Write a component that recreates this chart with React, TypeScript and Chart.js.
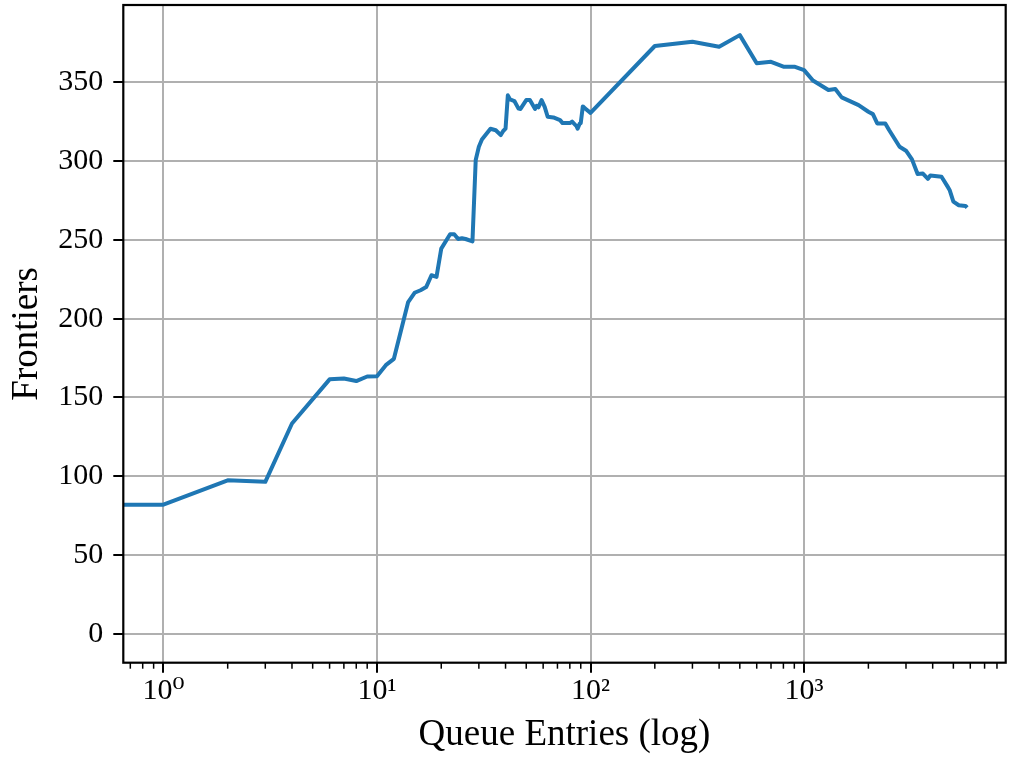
import React, { useEffect, useRef } from "react";
import { Chart, registerables } from "chart.js";

Chart.register(...registerables);

// Queue entries (x, log scale) and frontiers (y)
const QUEUE_ENTRIES = [
  0.5, 1, 2, 3, 4, 6, 7, 8, 9, 10, 11, 12, 14, 15, 16, 17, 18, 19, 20, 22, 23,
  24, 25, 26, 28, 29, 30, 31, 34, 36, 38, 39, 40, 41, 42, 44, 46, 47, 50, 52,
  55, 56, 57, 59, 61, 63, 67, 72, 74, 80, 82, 86, 87, 89, 90, 92, 95, 100, 200,
  300, 400, 500, 600, 700, 800, 900, 1000, 1100, 1300, 1400, 1500, 1800, 2000,
  2100, 2200, 2400, 2500, 2800, 3000, 3200, 3400, 3600, 3800, 3900, 4400, 4700,
  4800, 5000, 5300, 5700, 5800,
];
const FRONTIERS = [
  82, 82, 97.5, 96.5, 133.5, 161.5, 162, 160.4, 163.3, 163.5, 170.5, 174.5,
  210.5, 216.4, 218, 220, 227.5, 226.5, 244.4, 253.5, 253.5, 250.5, 251, 250.5,
  249, 300.6, 309, 313.6, 320.4, 319.5, 316.4, 319, 320.5, 341.6, 339, 338,
  333.2, 333, 338.6, 338.6, 333, 335, 334, 338.6, 334.3, 328, 327.6, 325.9, 324,
  324, 325, 322, 320.5, 323.7, 324, 334.6, 333, 330.5, 372.9, 375.6, 372.4,
  379.8, 361.9, 362.9, 359.8, 359.8, 357.6, 351, 345, 345.6, 340.3, 335.4, 331.2,
  329.7, 323.8, 323.8, 319.6, 309, 306.5, 301, 291.7, 292, 288.7, 290.8, 290,
  283.7, 281.6, 274.2, 271.9, 271.5, 270.4,
];

const X_MAJOR_TICKS = [1, 10, 100, 1000];
const X_MAJOR_LABELS = ["10⁰", "10¹", "10²", "10³"];
const X_MINOR_TICKS = [
  0.7, 0.8, 0.9, 2, 3, 4, 5, 6, 7, 8, 9, 20, 30, 40, 50, 60, 70, 80, 90, 200,
  300, 400, 500, 600, 700, 800, 900, 2000, 3000, 4000, 5000, 6000, 7000, 8000,
];
const Y_TICKS = [0, 50, 100, 150, 200, 250, 300, 350];

const X_MIN = 0.649;
const X_MAX = 8790;
const Y_MIN = -18.2;
const Y_MAX = 398.9;

const FONT = "'Liberation Serif', 'Times New Roman', 'DejaVu Serif', serif";

const framePlugin = {
  id: "frameAndMinor",
  afterDraw(chart: any) {
    const { ctx, chartArea } = chart;
    const xs = chart.scales.x;
    ctx.save();
    ctx.strokeStyle = "#000";
    ctx.lineWidth = 1.5;
    X_MINOR_TICKS.forEach((v) => {
      const px = xs.getPixelForValue(v);
      if (px < chartArea.left - 0.5 || px > chartArea.right + 0.5) return;
      ctx.beginPath();
      ctx.moveTo(px, chartArea.bottom);
      ctx.lineTo(px, chartArea.bottom + 6);
      ctx.stroke();
    });
    ctx.lineWidth = 2.2;
    ctx.strokeRect(
      chartArea.left,
      chartArea.top,
      chartArea.right - chartArea.left,
      chartArea.bottom - chartArea.top
    );
    ctx.restore();
  },
};

export default function App() {
  const ref = useRef<HTMLCanvasElement | null>(null);

  useEffect(() => {
    if (!ref.current) return;
    const points = QUEUE_ENTRIES.map((x, i) => ({ x, y: FRONTIERS[i] }));
    const chart = new Chart(ref.current, {
      type: "line",
      data: {
        datasets: [
          {
            data: points,
            borderColor: "#1f77b4",
            borderWidth: 4,
            pointRadius: 0,
            tension: 0,
            fill: false,
            borderJoinStyle: "round",
            borderCapStyle: "butt",
          },
        ],
      },
      options: {
        responsive: false,
        animation: false,
        events: [],
        layout: { padding: { left: 0, right: 5.3, top: 5, bottom: 0 } },
        plugins: { legend: { display: false }, tooltip: { enabled: false } },
        scales: {
          x: {
            type: "logarithmic",
            bounds: "data",
            min: X_MIN,
            max: X_MAX,
            afterBuildTicks: (scale: any) => {
              const all = [...X_MINOR_TICKS, ...X_MAJOR_TICKS].sort((a, b) => a - b);
              scale.ticks = all.map((v) => ({ value: v, major: X_MAJOR_TICKS.includes(v) }));
              scale.min = X_MIN;
              scale.max = X_MAX;
            },
            afterFit: (scale: any) => {
              scale.height = 757 - 662.7;
              scale.paddingLeft = 0;
              scale.paddingRight = 0;
            },
            border: { display: false },
            grid: {
              color: (c: any) =>
                c.tick && X_MAJOR_TICKS.includes(c.tick.value) ? "#b0b0b0" : "rgba(0,0,0,0)",
              tickColor: (c: any) =>
                c.tick && X_MAJOR_TICKS.includes(c.tick.value) ? "#000" : "rgba(0,0,0,0)",
              lineWidth: 2,
              tickWidth: 2,
              tickLength: 10,
            },
            ticks: {
              autoSkip: false,
              maxRotation: 0,
              minRotation: 0,
              padding: 0,
              color: "#000",
              font: { family: FONT, size: 30 },
              callback: (value: any) => {
                const i = X_MAJOR_TICKS.indexOf(Number(value));
                return i >= 0 ? X_MAJOR_LABELS[i] : "";
              },
            },
            title: {
              display: true,
              text: "Queue Entries (log)",
              color: "#000",
              font: { family: FONT, size: 37 },
              padding: { top: 0, bottom: 0 },
            },
          },
          y: {
            type: "linear",
            min: Y_MIN,
            max: Y_MAX,
            afterBuildTicks: (scale: any) => {
              scale.ticks = Y_TICKS.map((v) => ({ value: v }));
            },
            afterFit: (scale: any) => {
              scale.width = 123.3;
              scale.paddingTop = 0;
              scale.paddingBottom = 0;
            },
            border: { display: false },
            grid: {
              color: "#b0b0b0",
              tickColor: "#000",
              lineWidth: 2,
              tickWidth: 2,
              tickLength: 10,
            },
            ticks: {
              autoSkip: false,
              padding: 10,
              color: "#000",
              font: { family: FONT, size: 30 },
            },
            title: {
              display: true,
              text: "Frontiers",
              color: "#000",
              font: { family: FONT, size: 37 },
              padding: { top: 5.3, bottom: 0 },
            },
          },
        },
      },
      plugins: [framePlugin],
    } as any);
    return () => chart.destroy();
  }, []);

  return (
    <div style={{ position: "absolute", left: 0, top: 0, width: 1011, height: 757, background: "#fff" }}>
      <canvas ref={ref} width={1011} height={757} style={{ display: "block" }} />
    </div>
  );
}
